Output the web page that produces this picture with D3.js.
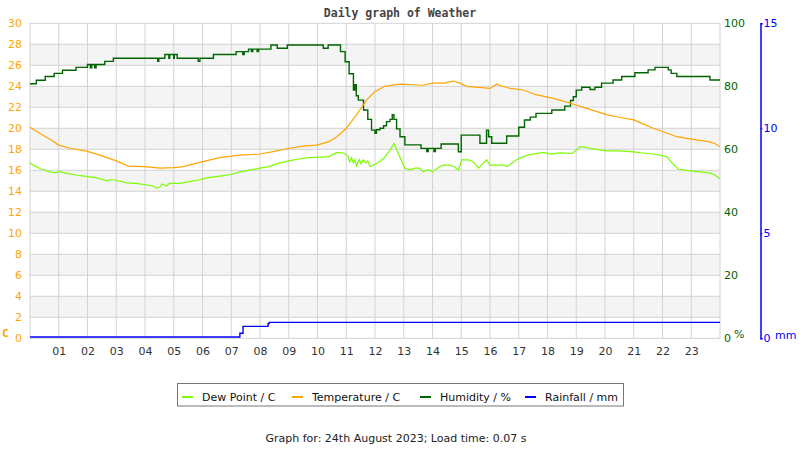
<!DOCTYPE html>
<html>
<head>
<meta charset="utf-8">
<script src="https://cdn.jsdelivr.net/npm/d3@7"></script>
<style>
  body { margin: 0; background: #fff; }
  svg { display: block; font-family: "DejaVu Sans", sans-serif; }
</style>
</head>
<body>
<svg id="chart" width="800" height="450"></svg>
<script>
// tick labels
const hourTicks = d3.range(1, 24);
const tempTicks = d3.range(0, 31, 2);
const humTicks = [0, 20, 40, 60, 80, 100];
const rainTicks = [0, 5, 10, 15];

// series as [hour, value]
const dewPoint = [
  [0, 16.75], [0.1, 16.5], [0.22, 16.35], [0.4, 16.1], [0.7, 15.85], [0.9, 15.75], [1.0, 15.9],
  [1.28, 15.7], [1.6, 15.55], [2.0, 15.4], [2.3, 15.3], [2.67, 15.0], [2.8, 15.1], [3.0, 15.05],
  [3.36, 14.8], [3.7, 14.75], [4.06, 14.6], [4.3, 14.5], [4.4, 14.3], [4.52, 14.4], [4.6, 14.7],
  [4.75, 14.5], [4.85, 14.75], [5.2, 14.75], [5.5, 14.9], [5.9, 15.1], [6.2, 15.3], [6.6, 15.45],
  [7.0, 15.6], [7.3, 15.85], [7.6, 16.0], [8.0, 16.2], [8.3, 16.35], [8.7, 16.7], [9.0, 16.9],
  [9.39, 17.1], [9.7, 17.2], [10.09, 17.25], [10.4, 17.3], [10.67, 17.7], [10.9, 17.65],
  [11.05, 17.4], [11.12, 16.8], [11.18, 17.2], [11.25, 16.7], [11.3, 17.0], [11.36, 16.4],
  [11.45, 17.0], [11.52, 16.6], [11.59, 17.0], [11.68, 16.7], [11.75, 16.9], [11.83, 16.35],
  [12.06, 16.65], [12.29, 17.1], [12.52, 17.9], [12.66, 18.55], [12.81, 17.6], [13.04, 16.2],
  [13.2, 16.05], [13.4, 16.2], [13.55, 16.2], [13.68, 15.85], [13.85, 16.05], [14.0, 15.85],
  [14.26, 16.35], [14.38, 16.5], [14.6, 16.5], [14.75, 16.35], [14.9, 16.0], [15.02, 17.0],
  [15.25, 17.0], [15.42, 16.8], [15.6, 16.2], [15.7, 16.5], [15.88, 17.0], [16.0, 16.5],
  [16.46, 16.5], [16.6, 16.35], [16.93, 17.0], [17.16, 17.3], [17.39, 17.5], [17.86, 17.7],
  [18.1, 17.55], [18.43, 17.65], [18.85, 17.6], [19.0, 17.9], [19.13, 18.25], [19.3, 18.2],
  [19.48, 18.1], [19.8, 17.95], [20.06, 17.85], [20.5, 17.85], [21.0, 17.75], [21.3, 17.65],
  [21.68, 17.55], [21.9, 17.45], [22.15, 17.3], [22.3, 16.8], [22.55, 16.1], [22.96, 15.95],
  [23.3, 15.85], [23.65, 15.75], [23.85, 15.5], [24, 15.2]
];

const temperature = [
  [0, 20.1], [0.35, 19.5], [0.7, 18.95], [1.0, 18.4], [1.39, 18.1], [2.0, 17.8], [2.43, 17.45],
  [3.0, 16.9], [3.42, 16.4], [4.0, 16.35], [4.52, 16.2], [5.0, 16.25], [5.33, 16.35], [5.9, 16.75],
  [6.6, 17.2], [7.3, 17.45], [8.0, 17.55], [8.5, 17.8], [9.04, 18.1], [9.5, 18.3], [9.97, 18.4],
  [10.38, 18.7], [10.67, 19.2], [11.0, 20.0], [11.36, 21.3], [11.71, 22.7], [12.0, 23.5],
  [12.35, 24.0], [12.87, 24.2], [13.3, 24.15], [13.68, 24.1], [14.0, 24.3], [14.4, 24.3],
  [14.72, 24.5], [14.95, 24.3], [15.19, 24.0], [15.6, 23.9], [16.0, 23.8], [16.23, 24.2],
  [16.45, 24.0], [16.7, 23.8], [17.16, 23.65], [17.6, 23.2], [18.2, 22.85], [18.67, 22.5],
  [19.36, 21.9], [20.06, 21.3], [20.5, 21.05], [21.0, 20.8], [21.3, 20.45], [21.68, 20.0],
  [22.1, 19.6], [22.5, 19.2], [23.07, 18.95], [23.65, 18.7], [23.85, 18.5], [24, 18.25]
];

// humidity is stepped: value holds until the next hour mark
const humidity = [
  [0, 80.8], [0.22, 81.9], [0.53, 83.1], [0.84, 84.1], [1.13, 85.1], [1.6, 86.0], [2.0, 86.9],
  [2.1, 85.9], [2.15, 86.9], [2.25, 85.9], [2.3, 86.9], [2.6, 87.9], [2.9, 88.9], [4.44, 87.9],
  [4.48, 88.9], [4.69, 90.1], [4.83, 88.9], [4.86, 90.1], [5.0, 88.9], [5.02, 90.1], [5.12, 88.9],
  [5.85, 87.9], [5.91, 88.9], [6.38, 90.1], [7.17, 91.0], [7.4, 90.1], [7.45, 91.0], [7.6, 91.8],
  [7.7, 91.0], [7.75, 91.8], [7.9, 91.0], [7.95, 91.8], [8.38, 93.1], [8.6, 92.1], [8.95, 93.1],
  [10.2, 92.1], [10.37, 93.1], [10.69, 93.1], [10.8, 91.0], [10.96, 87.8], [11.1, 84.0],
  [11.25, 78.8], [11.3, 80.5], [11.35, 77.0], [11.42, 75.6], [11.6, 72.5], [11.75, 69.5],
  [11.88, 66.1], [12.0, 65.1], [12.05, 66.2], [12.17, 66.7], [12.3, 67.5], [12.4, 68.8],
  [12.52, 69.5], [12.6, 71.0], [12.66, 69.5], [12.75, 66.5], [12.87, 64.0], [13.04, 61.4],
  [13.6, 60.3], [13.8, 59.3], [13.85, 60.3], [14.05, 59.3], [14.1, 60.3], [14.3, 61.7],
  [14.9, 59.2], [15.0, 64.5], [15.65, 61.9], [15.88, 66.1], [15.95, 64.0], [16.06, 61.9],
  [16.58, 64.2], [17.0, 67.0], [17.2, 69.3], [17.4, 70.2], [17.6, 71.4], [18.15, 72.5],
  [18.6, 73.7], [18.8, 75.5], [18.9, 76.7], [19.0, 78.8], [19.19, 79.7], [19.48, 79.0],
  [19.65, 79.7], [19.88, 81.0], [20.28, 82.0], [20.58, 83.1], [21.04, 84.3], [21.5, 85.2],
  [21.74, 86.0], [22.2, 85.2], [22.3, 84.1], [22.5, 83.1], [23.65, 82.0], [24, 82.0]
];

const rainfall = [
  [0, 0.06], [7.3, 0.24], [7.41, 0.57], [8.28, 0.7], [8.32, 0.76], [24, 0.76]
];

const legendItems = [
  { label: "Dew Point / C", color: "#7cfc00" },
  { label: "Temperature / C", color: "#ffa500" },
  { label: "Humidity / %", color: "#006400" },
  { label: "Rainfall / mm", color: "#0000ff" }
];

const svg = d3.select("#chart");
const plotLeft = 30, plotRight = 720, plotTop = 23.3, plotBottom = 338.3;

const x = d3.scaleLinear().domain([0, 24]).range([plotLeft, plotRight]);
const yTemp = d3.scaleLinear().domain([0, 30]).range([plotBottom, plotTop]);
const yHum = d3.scaleLinear().domain([0, 100]).range([plotBottom, plotTop]);
const yRain = d3.scaleLinear().domain([0, 15]).range([plotBottom, plotTop]);

// shaded bands
svg.append("g").selectAll("rect")
  .data(d3.range(2, 30, 4))
  .join("rect")
  .attr("x", plotLeft)
  .attr("width", plotRight - plotLeft)
  .attr("y", d => yTemp(d + 2))
  .attr("height", d => yTemp(d) - yTemp(d + 2))
  .attr("fill", "#f4f4f4");

// grid
const grid = svg.append("g").attr("stroke", "#d3d3d3").attr("stroke-width", 1);
grid.selectAll("line.h")
  .data(tempTicks)
  .join("line")
  .attr("class", "h")
  .attr("x1", plotLeft).attr("x2", plotRight)
  .attr("y1", d => yTemp(d)).attr("y2", d => yTemp(d));
grid.selectAll("line.v")
  .data(d3.range(0, 25))
  .join("line")
  .attr("class", "v")
  .attr("y1", plotTop).attr("y2", plotBottom)
  .attr("x1", d => x(d)).attr("x2", d => x(d));

// lines
const lineFor = (yScale, curve) => d3.line()
  .x(d => x(d[0]))
  .y(d => yScale(d[1]))
  .curve(curve);

svg.append("path").datum(humidity)
  .attr("d", lineFor(yHum, d3.curveStepAfter))
  .attr("fill", "none").attr("stroke", "#006400").attr("stroke-width", 1.4);
svg.append("path").datum(temperature)
  .attr("d", lineFor(yTemp, d3.curveLinear))
  .attr("fill", "none").attr("stroke", "#ffa500").attr("stroke-width", 1.2);
svg.append("path").datum(dewPoint)
  .attr("d", lineFor(yTemp, d3.curveLinear))
  .attr("fill", "none").attr("stroke", "#7cfc00").attr("stroke-width", 1.2);
svg.append("path").datum(rainfall)
  .attr("d", lineFor(yRain, d3.curveStepAfter))
  .attr("fill", "none").attr("stroke", "#0000ff").attr("stroke-width", 1.4);

// left axis (temperature)
const axL = svg.append("g")
  .attr("transform", `translate(${plotLeft - 8},0)`)
  .call(d3.axisLeft(yTemp).tickValues(tempTicks).tickSize(0).tickPadding(0));
axL.select(".domain").remove();
axL.selectAll("text").attr("fill", "#ffa500").style("font-size", "11px")
  .style("font-family", "DejaVu Sans");

// right axis (humidity)
const axR = svg.append("g")
  .attr("transform", `translate(${plotRight + 4},0)`)
  .call(d3.axisRight(yHum).tickValues(humTicks).tickSize(0).tickPadding(0));
axR.select(".domain").remove();
axR.selectAll("text").attr("fill", "#006400").style("font-size", "11px")
  .style("font-family", "DejaVu Sans");

// rainfall axis
const axRain = svg.append("g")
  .attr("transform", "translate(760.5,0)")
  .call(d3.axisRight(yRain).tickValues(rainTicks).tickSize(2).tickPadding(1));
axRain.select(".domain").attr("stroke", "#0000ff").attr("stroke-width", 1.5);
axRain.selectAll("line").attr("stroke", "#0000ff");
axRain.selectAll("text").attr("fill", "#0000ff").style("font-size", "11px")
  .style("font-family", "DejaVu Sans");

// x axis
const axX = svg.append("g")
  .attr("transform", `translate(0,${plotBottom})`)
  .call(d3.axisBottom(x).tickValues(hourTicks).tickSize(0).tickPadding(9)
    .tickFormat(d => String(d).padStart(2, "0")));
axX.select(".domain").remove();
axX.selectAll("text").attr("fill", "#333").style("font-size", "11px")
  .style("font-family", "DejaVu Sans");

// unit labels
svg.append("text").attr("x", 2).attr("y", 337).text("C")
  .attr("fill", "#ffa500").style("font-family", "DejaVu Sans Mono").style("font-weight", "bold")
  .style("font-size", "11px");
svg.append("text").attr("x", 734).attr("y", 338).text("%")
  .attr("fill", "#006400").style("font-size", "11px");
svg.append("text").attr("x", 775).attr("y", 339).text("mm")
  .attr("fill", "#0000ff").style("font-size", "11px");

// title
svg.append("text")
  .attr("x", 400).attr("y", 16.5)
  .attr("text-anchor", "middle")
  .attr("fill", "#444")
  .style("font-family", "DejaVu Sans Mono")
  .style("font-weight", "bold")
  .style("font-size", "11.5px")
  .text("Daily graph of Weather");

// legend
svg.append("rect")
  .attr("x", 177.5).attr("y", 383.5).attr("width", 446).attr("height", 22.5)
  .attr("fill", "#fff").attr("stroke", "#777").attr("stroke-width", 1);
const legX = [182, 292, 420, 525];
const leg = svg.append("g").selectAll("g")
  .data(legendItems)
  .join("g")
  .attr("transform", (d, i) => `translate(${legX[i]},397)`);
leg.append("line")
  .attr("x1", 0).attr("x2", 11)
  .attr("stroke", d => d.color).attr("stroke-width", 2);
leg.append("text")
  .attr("x", 20).attr("y", 4)
  .attr("fill", "#111")
  .style("font-size", "11px")
  .text(d => d.label);

// footer
svg.append("text")
  .attr("x", 396).attr("y", 442)
  .attr("text-anchor", "middle")
  .attr("fill", "#222")
  .style("font-size", "11px")
  .text("Graph for: 24th August 2023; Load time: 0.07 s");
</script>
</body>
</html>
